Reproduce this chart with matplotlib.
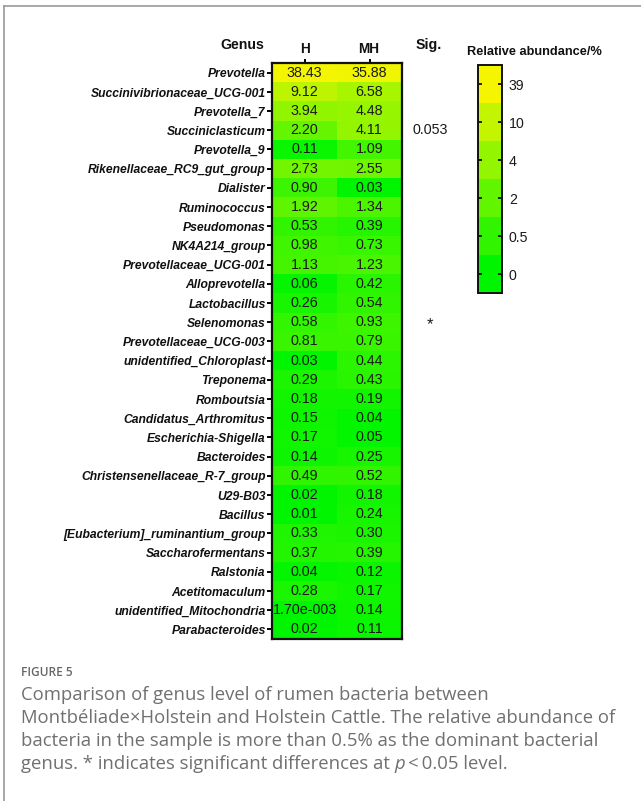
import numpy as np
import matplotlib
matplotlib.use("Agg")
import matplotlib.pyplot as plt
from matplotlib.colors import LinearSegmentedColormap, ListedColormap, FuncNorm, Normalize
from matplotlib.cm import ScalarMappable
from matplotlib.lines import Line2D

# ---- data ----
genera = [
    "Prevotella", "Succinivibrionaceae_UCG-001", "Prevotella_7", "Succiniclasticum",
    "Prevotella_9", "Rikenellaceae_RC9_gut_group", "Dialister", "Ruminococcus",
    "Pseudomonas", "NK4A214_group", "Prevotellaceae_UCG-001", "Alloprevotella",
    "Lactobacillus", "Selenomonas", "Prevotellaceae_UCG-003", "unidentified_Chloroplast",
    "Treponema", "Romboutsia", "Candidatus_Arthromitus", "Escherichia-Shigella",
    "Bacteroides", "Christensenellaceae_R-7_group", "U29-B03", "Bacillus",
    "[Eubacterium]_ruminantium_group", "Saccharofermentans", "Ralstonia",
    "Acetitomaculum", "unidentified_Mitochondria", "Parabacteroides",
]
groups = ["H", "MH"]
h_values = [38.43, 9.12, 3.94, 2.20, 0.11, 2.73, 0.90, 1.92, 0.53, 0.98,
            1.13, 0.06, 0.26, 0.58, 0.81, 0.03, 0.29, 0.18, 0.15, 0.17,
            0.14, 0.49, 0.02, 0.01, 0.33, 0.37, 0.04, 0.28, 0.0017, 0.02]
mh_values = [35.88, 6.58, 4.48, 4.11, 1.09, 2.55, 0.03, 1.34, 0.39, 0.73,
             1.23, 0.42, 0.54, 0.93, 0.79, 0.44, 0.43, 0.19, 0.04, 0.05,
             0.25, 0.52, 0.18, 0.24, 0.30, 0.39, 0.12, 0.17, 0.14, 0.11]
h_labels = ["{:.2f}".format(v) for v in h_values]
h_labels[28] = "1.70e-003"
mh_labels = ["{:.2f}".format(v) for v in mh_values]
sig_labels = {3: "0.053", 13: "*"}
scale_ticks = [0, 0.5, 2, 4, 10, 39]

# ---- geometry helpers (pixel -> figure fraction) ----
W, H = 641, 801
def fx(x):
    return x / W
def fy(y):
    return 1 - y / H

fig = plt.figure(figsize=(W / 100, H / 100), dpi=100)
fig.patch.set_facecolor("white")

# page frame (top and left edges)
fig.add_artist(Line2D([fx(4), 1.0], [fy(6), fy(6)], color="#9a9a9a", lw=1.2))
fig.add_artist(Line2D([fx(4), fx(4)], [fy(6), 0.0], color="#9a9a9a", lw=1.2))

# ---- colour scale: piecewise scale through the legend ticks ----
idx = np.arange(len(scale_ticks), dtype=float)
def fwd(v):
    return np.interp(v, scale_ticks, idx)
def inv(t):
    return np.interp(t, idx, scale_ticks)
norm = FuncNorm((fwd, inv), vmin=scale_ticks[0], vmax=scale_ticks[-1])
cmap = LinearSegmentedColormap.from_list("gy", ["#00f500", "#f5f500"])

data = np.array([h_values, mh_values]).T

# ---- heatmap ----
ax = fig.add_axes([fx(272), fy(639), fx(402) - fx(272), (639 - 63) / H])
ax.imshow(data, cmap=cmap, norm=norm, aspect="auto", interpolation="nearest")
n = len(genera)
ax.set_yticks(np.arange(n))
ax.set_yticklabels(genera, fontfamily="Liberation Sans", fontweight="bold",
                   fontstyle="italic", fontsize=8.75, color="#111111")
ax.set_xticks(np.arange(len(groups)))
ax.set_xticklabels([])
ax.xaxis.set_ticks_position("top")
ax.tick_params(axis="y", length=3.5, width=1.4, pad=1)
ax.tick_params(axis="x", length=3, width=1.4, top=True, bottom=False)
for s in ax.spines.values():
    s.set_linewidth(1.6)
    s.set_color("#111111")

cell_kw = dict(ha="center", va="center", fontsize=10.3,
               fontfamily="Liberation Sans", color="#1a1a1a")
for i in range(n):
    ax.text(0, i, h_labels[i], **cell_kw)
    ax.text(1, i, mh_labels[i], **cell_kw)

# column headers
hdr = dict(fontfamily="Liberation Sans", fontweight="bold", color="#111111")
fig.text(fx(264), fy(45), "Genus", ha="right", va="center", fontsize=10.2, **hdr)
fig.text(fx(305), fy(49), groups[0], ha="center", va="center", fontsize=9.8, **hdr)
fig.text(fx(369), fy(49), groups[1], ha="center", va="center", fontsize=9.8, **hdr)
fig.text(fx(429), fy(45), "Sig.", ha="center", va="center", fontsize=10.2, **hdr)

# significance column
for row, lab in sig_labels.items():
    ypix = 63 + (row + 0.5) * (639 - 63) / n
    if lab == "*":
        fig.text(fx(430), fy(ypix + 2), lab, ha="center", va="center",
                 fontsize=12, fontfamily="Liberation Sans", color="#1a1a1a")
    else:
        fig.text(fx(430), fy(ypix), lab, ha="center", va="center",
                 fontsize=10.3, fontfamily="Liberation Sans", color="#1a1a1a")

# ---- banded colour legend ----
band_cols = cmap(norm(np.array(scale_ticks, dtype=float)))
cax = fig.add_axes([fx(478), fy(293), fx(502) - fx(478), (293 - 65) / H])
sm = ScalarMappable(cmap=ListedColormap(band_cols), norm=Normalize(0, len(scale_ticks)))
cb = fig.colorbar(sm, cax=cax)
cb.set_ticks(np.arange(len(scale_ticks)) + 0.5)
cb.set_ticklabels([("%g" % t) for t in scale_ticks])
cax.tick_params(direction="in", left=True, right=True, length=3, width=1.2,
                labelsize=10.2, pad=5)
for lab in cax.get_yticklabels():
    lab.set_fontfamily("Liberation Sans")
    lab.set_color("#1a1a1a")
cb.outline.set_linewidth(1.4)
cb.outline.set_edgecolor("#111111")
fig.text(fx(534), fy(52), "Relative abundance/%", ha="center", va="center",
         fontsize=9.2, **hdr)

# ---- caption ----
cap_font = "Open Sans"
cap_size = 13.3
cap_col = "#707070"
fig.text(fx(21), fy(672), "FIGURE 5", ha="left", va="center", fontsize=8.6,
         fontfamily=cap_font, fontweight="semibold", color="#666666")
cap_lines = [
    "Comparison of genus level of rumen bacteria between",
    "Montbéliade\u00d7Holstein and Holstein Cattle. The relative abundance of",
    "bacteria in the sample is more than 0.5% as the dominant bacterial",
]
for k, line in enumerate(cap_lines):
    fig.text(fx(21), fy(700 + 23 * k), line, ha="left", va="baseline",
             fontsize=cap_size, fontfamily=cap_font, color=cap_col)

# last line: mixed upright / italic pieces placed one after another
cap_kw = dict(fontsize=cap_size, fontfamily=cap_font, color=cap_col,
              va="baseline", ha="left")
pieces = [("genus. * indicates significant differences at ", "normal"),
          ("p", "italic"),
          ("\u2009<\u20090.05 level.", "normal")]
renderer = fig.canvas.get_renderer()
x_cur = fx(21)
for txt, style in pieces:
    t = fig.text(x_cur, fy(769), txt, fontstyle=style, **cap_kw)
    ext = t.get_window_extent(renderer=renderer)
    x_cur = ext.x1 / (W)

fig.savefig("out.png", dpi=100, facecolor="white")
